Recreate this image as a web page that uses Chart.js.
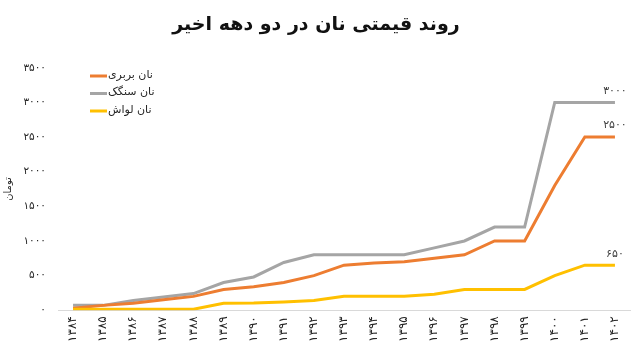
<!DOCTYPE html>
<html>
<head>
<meta charset="utf-8">
<script src="https://cdn.jsdelivr.net/npm/chart.js@4"></script>
<style>
  body { margin: 0; background: #fff; }
  #wrap { width: 640px; height: 360px; }
</style>
</head>
<body>
<div id="wrap"><canvas id="breadChart" width="640" height="360"></canvas></div>
<script>
// years 1384..1402 (solar hijri)
const years = ['1384', '1385', '1386', '1387', '1388', '1389', '1390', '1391', '1392', '1393',
    '1394', '1395', '1396', '1397', '1398', '1399', '1400', '1401', '1402'];
const barbari = [30, 70, 100, 150, 200, 300, 340, 400, 500, 650, 680, 700, 750, 800, 1000, 1000, 1800, 2500, 2500];
const sangak = [70, 70, 140, 190, 240, 400, 480, 690, 800, 800, 800, 800, 900, 1000, 1200, 1200, 3000, 3000, 3000];
const lavash = [15, 15, 15, 15, 15, 100, 105, 120, 140, 200, 200, 200, 230, 300, 300, 300, 500, 650, 650];
const yTicks = [0, 500, 1000, 1500, 2000, 2500, 3000, 3500];

const seriesNames = ['نان بربری', 'نان سنگک', 'نان لواش'];
const seriesColors = ['#ED7D31', '#A5A5A5', '#FFC000'];

const faFont = "'DejaVu Sans', 'Noto Sans', sans-serif";

function toFa(s) {
    return String(s).replace(/[0-9]/g, d => '۰۱۲۳۴۵۶۷۸۹'[d]);
}

// legend drawn inside the plot, top-left
const innerLegend = {
    id: 'innerLegend',
    afterDraw(chart) {
        const ctx = chart.ctx;
        ctx.save();
        ctx.font = '11px ' + faFont;
        ctx.textBaseline = 'middle';
        ctx.textAlign = 'left';
        chart.data.datasets.forEach((ds, i) => {
            const y = 76 + i * 17.5;
            ctx.strokeStyle = ds.borderColor;
            ctx.lineWidth = 3;
            ctx.beginPath();
            ctx.moveTo(90, y);
            ctx.lineTo(107, y);
            ctx.stroke();
            ctx.fillStyle = '#262626';
            ctx.fillText(ds.label, 108, y - 1);
        });
        ctx.restore();
    }
};

// value labels over the last point of each line
const endLabels = {
    id: 'endLabels',
    afterDatasetsDraw(chart) {
        const ctx = chart.ctx;
        ctx.save();
        ctx.font = '11px ' + faFont;
        ctx.fillStyle = '#404040';
        ctx.textAlign = 'center';
        ctx.textBaseline = 'bottom';
        chart.data.datasets.forEach((ds, i) => {
            const meta = chart.getDatasetMeta(i);
            const last = meta.data[meta.data.length - 1];
            ctx.fillText(toFa(ds.data[ds.data.length - 1]), last.x, last.y - 6);
        });
        ctx.restore();
    }
};

new Chart(document.getElementById('breadChart').getContext('2d'), {
    type: 'line',
    data: {
        labels: years,
        datasets: [
            { label: seriesNames[0], data: barbari, borderColor: seriesColors[0], order: 2 },
            { label: seriesNames[1], data: sangak, borderColor: seriesColors[1], order: 3 },
            { label: seriesNames[2], data: lavash, borderColor: seriesColors[2], order: 1 }
        ].map(d => Object.assign(d, {
            backgroundColor: d.borderColor,
            borderWidth: 3,
            pointRadius: 0,
            tension: 0,
            fill: false
        }))
    },
    options: {
        responsive: false,
        animation: false,
        layout: { padding: { left: 2, right: 10, top: 0, bottom: 12 } },
        plugins: {
            legend: { display: false },
            tooltip: { enabled: false },
            title: {
                display: true,
                text: 'روند قیمتی نان در دو دهه اخیر',
                color: '#111',
                font: { family: faFont, size: 19, weight: 'bold' },
                padding: { top: 14, bottom: 31 }
            }
        },
        scales: {
            x: {
                offset: true,
                grid: { display: true, drawOnChartArea: false, drawTicks: false },
                border: { display: true, color: '#D9D9D9', width: 1 },
                ticks: {
                    color: '#262626',
                    font: { family: faFont, size: 12 },
                    maxRotation: 90,
                    minRotation: 90,
                    autoSkip: false,
                    padding: 6,
                    callback: function (v, i) { return toFa(years[i]); }
                }
            },
            y: {
                min: 0,
                max: 3500,
                afterBuildTicks: s => { s.ticks = yTicks.map(v => ({ value: v })); },
                afterFit: s => { s.width = 56; },
                grid: { display: false },
                border: { display: false },
                title: {
                    display: true,
                    text: 'تومان',
                    color: '#262626',
                    font: { family: faFont, size: 10 },
                    padding: { top: 0, bottom: 4 }
                },
                ticks: {
                    color: '#262626',
                    font: { family: faFont, size: 10.5 },
                    padding: 4,
                    callback: v => toFa(v)
                }
            }
        }
    },
    plugins: [innerLegend, endLabels]
});
</script>
</body>
</html>
